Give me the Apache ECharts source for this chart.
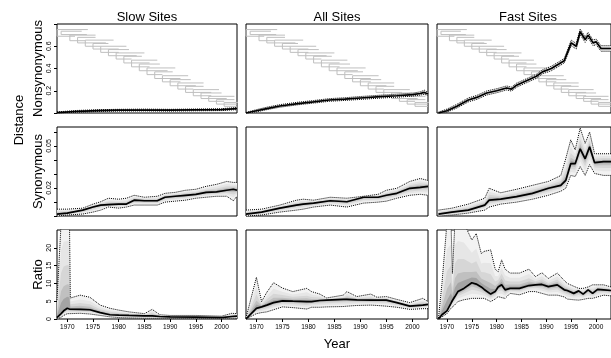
<!DOCTYPE html>
<html>
<head>
<meta charset="utf-8">
<script src="https://cdn.jsdelivr.net/npm/echarts@6/dist/echarts.min.js"></script>
<style>
  html, body { margin: 0; padding: 0; background: #fff; }
  #chart { width: 611px; height: 358px; }
</style>
</head>
<body>
<div id="chart"></div>
<script>
const panelTitles = ["Slow Sites", "All Sites", "Fast Sites"];
const rowLabels = ["Nonsynonymous", "Synonymous", "Ratio"];
const yearTicks = [1970, 1975, 1980, 1985, 1990, 1995, 2000];
const nonsynTicks = [0, 0.2, 0.4, 0.6, 0.8];
const nonsynLabels = [0.2, 0.4, 0.6];
const synTicks = [0, 0.01, 0.02, 0.03, 0.04, 0.05, 0.06];
const synLabels = [0.02, 0.05];
const ratioTicks = [0, 5, 10, 15, 20];

// sampled tree: [node year, upper tip distance, lower tip distance, upper branch length, lower branch length]
const treeNodes = [
  [1968.0, 0.750, 0.690, 6.0, 3.5], [1968.8, 0.735, 0.705, 4.0, 5.0],
  [1970.5, 0.700, 0.650, 5.0, 3.0], [1972.0, 0.680, 0.630, 3.5, 5.5],
  [1973.5, 0.655, 0.600, 5.5, 3.0], [1975.0, 0.625, 0.575, 3.0, 5.0],
  [1976.5, 0.600, 0.545, 5.0, 3.5], [1978.0, 0.570, 0.515, 4.0, 5.5],
  [1979.5, 0.540, 0.485, 5.5, 3.0], [1981.0, 0.510, 0.450, 3.5, 5.0],
  [1982.5, 0.475, 0.415, 5.0, 3.5], [1984.0, 0.440, 0.380, 4.0, 5.5],
  [1985.5, 0.405, 0.345, 5.5, 3.0], [1987.0, 0.370, 0.310, 3.5, 5.0],
  [1988.5, 0.335, 0.280, 5.0, 3.5], [1990.0, 0.300, 0.245, 4.0, 5.0],
  [1991.5, 0.270, 0.215, 5.0, 3.0], [1993.0, 0.240, 0.185, 3.5, 5.0],
  [1994.5, 0.210, 0.155, 5.0, 3.5], [1996.0, 0.180, 0.130, 4.0, 5.0],
  [1997.5, 0.150, 0.105, 5.0, 3.0], [1999.0, 0.120, 0.080, 3.5, 4.0],
  [2000.5, 0.095, 0.060, 3.0, 2.5]
];

// nonsynonymous distance
const slowNonsynYears = [1968, 1972, 1976, 1980, 1985, 1990, 1995, 2000, 2003];
const slowNonsynMid = [0.003, 0.015, 0.022, 0.025, 0.027, 0.025, 0.028, 0.030, 0.040];
const slowNonsynLo = [0, 0.007, 0.014, 0.017, 0.019, 0.017, 0.020, 0.022, 0.030];
const slowNonsynHi = [0.010, 0.023, 0.030, 0.033, 0.035, 0.033, 0.036, 0.039, 0.050];

const allNonsynYears = [1968, 1970, 1972, 1974.5, 1978, 1981, 1984, 1987, 1990, 1993.8, 1997, 2000, 2001.5, 2002.3, 2003];
const allNonsynMid = [0, 0.02, 0.04, 0.063, 0.085, 0.10, 0.117, 0.125, 0.135, 0.147, 0.155, 0.165, 0.175, 0.185, 0.171];
const allNonsynLo = [0, 0.01, 0.03, 0.052, 0.074, 0.089, 0.105, 0.113, 0.122, 0.134, 0.142, 0.152, 0.161, 0.168, 0.158];
const allNonsynHi = [0.005, 0.03, 0.052, 0.075, 0.097, 0.112, 0.129, 0.137, 0.148, 0.160, 0.168, 0.178, 0.19, 0.205, 0.185];

const fastNonsynYears = [1968.3, 1970, 1972, 1974.3, 1976, 1978, 1980, 1982, 1983, 1984, 1986, 1988, 1989.2, 1991, 1992.5, 1993.6, 1995, 1996, 1996.8, 1997.8, 1998.4, 1999.4, 2000, 2001, 2003];
const fastNonsynMid = [0, 0.02, 0.06, 0.117, 0.14, 0.18, 0.20, 0.225, 0.215, 0.25, 0.29, 0.33, 0.37, 0.40, 0.44, 0.47, 0.63, 0.60, 0.73, 0.66, 0.70, 0.63, 0.64, 0.58, 0.58];
const fastNonsynLo = [0, 0.008, 0.045, 0.10, 0.122, 0.162, 0.182, 0.207, 0.197, 0.232, 0.272, 0.312, 0.352, 0.38, 0.42, 0.45, 0.605, 0.575, 0.705, 0.635, 0.675, 0.605, 0.615, 0.555, 0.555];
const fastNonsynHi = [0.008, 0.035, 0.078, 0.135, 0.158, 0.198, 0.218, 0.243, 0.233, 0.268, 0.308, 0.348, 0.388, 0.42, 0.46, 0.49, 0.655, 0.625, 0.755, 0.685, 0.725, 0.655, 0.665, 0.605, 0.605];

// synonymous distance
const slowSynYears = [1968, 1970, 1973, 1975, 1976.5, 1978, 1980, 1981.5, 1983, 1985, 1987.5, 1989, 1991, 1993, 1995, 1997, 1999, 2001, 2002.3, 2003];
const slowSynMid = [0.0014, 0.0021, 0.0042, 0.0064, 0.0078, 0.0081, 0.0085, 0.0085, 0.0113, 0.0109, 0.0109, 0.0134, 0.0141, 0.0148, 0.0155, 0.0169, 0.0173, 0.0184, 0.0191, 0.0184];
const slowSynLo = [0, 0.0007, 0.0014, 0.0028, 0.0042, 0.0064, 0.0056, 0.0064, 0.0078, 0.0078, 0.0078, 0.0099, 0.0106, 0.0113, 0.0127, 0.0134, 0.0141, 0.0141, 0.0109, 0.0141];
const slowSynHi = [0.0049, 0.0049, 0.0056, 0.0085, 0.0102, 0.0127, 0.0120, 0.0127, 0.0148, 0.0134, 0.0141, 0.0162, 0.0169, 0.0184, 0.0191, 0.0212, 0.0226, 0.0247, 0.0240, 0.0240];

const allSynYears = [1968, 1971, 1974.5, 1977.7, 1979, 1981, 1984.2, 1987.4, 1990.6, 1993.4, 1995, 1997, 1999.5, 2001.5, 2003];
const allSynMid = [0.0014, 0.0028, 0.0056, 0.0078, 0.0085, 0.0092, 0.0109, 0.0102, 0.0134, 0.0134, 0.0148, 0.0162, 0.0198, 0.0205, 0.0212];
const allSynLo = [0, 0.0007, 0.0028, 0.0042, 0.0049, 0.0064, 0.0078, 0.0064, 0.0092, 0.0099, 0.0106, 0.0127, 0.0148, 0.0155, 0.0148];
const allSynHi = [0.0042, 0.0049, 0.0078, 0.0113, 0.0120, 0.0113, 0.0134, 0.0127, 0.0141, 0.0155, 0.0184, 0.0198, 0.0247, 0.0268, 0.0254];

const fastSynYears = [1968.3, 1971, 1974.3, 1977.6, 1978.5, 1980.8, 1984, 1987.2, 1990.4, 1992.9, 1993.9, 1994.9, 1995.8, 1996.8, 1997.8, 1998.7, 1999.7, 2001.5, 2003];
const fastSynMid = [0.0014, 0.0028, 0.0042, 0.0078, 0.0113, 0.0120, 0.0138, 0.0162, 0.0198, 0.0219, 0.0254, 0.0374, 0.0374, 0.0480, 0.0409, 0.0494, 0.0381, 0.0388, 0.0388];
const fastSynLo = [0, 0.0007, 0.0021, 0.0042, 0.0064, 0.0085, 0.0099, 0.0120, 0.0148, 0.0177, 0.0198, 0.0290, 0.0282, 0.0353, 0.0290, 0.0367, 0.0304, 0.0290, 0.0290];
const fastSynHi = [0.0042, 0.0056, 0.0085, 0.0127, 0.0198, 0.0166, 0.0191, 0.0219, 0.0247, 0.0289, 0.0410, 0.0544, 0.0473, 0.0628, 0.0519, 0.0600, 0.0445, 0.0445, 0.0445];

// ratio
const slowRatioYears = [1968, 1968.8, 1969.3, 1970, 1970.4, 1970.6, 1972.5, 1974.4, 1976.4, 1978.3, 1980, 1982, 1985, 1986.5, 1988, 1990, 1995, 2000, 2002, 2003];
const slowRatioMid = [0.4, 1.5, 2.3, 3.0, 2.8, 2.7, 2.7, 2.6, 1.8, 1.2, 1.1, 1.0, 0.9, 0.9, 0.7, 0.6, 0.5, 0.4, 0.7, 0.8];
const slowRatioLo = [0, 0.5, 1.0, 1.5, 1.5, 1.5, 1.6, 1.4, 1.0, 0.6, 0.4, 0.3, 0.2, 0.2, 0.2, 0.2, 0.15, 0.1, 0.2, 0.2];
const slowRatioHi = [5.3, 27, 30, 30, 30, 5.9, 6.7, 6.1, 3.9, 3.0, 2.5, 2.0, 1.5, 2.7, 1.2, 1.0, 1.0, 0.8, 1.6, 1.5];

const allRatioYears = [1968, 1970, 1971, 1972, 1973.3, 1975, 1977, 1979.7, 1980.6, 1982.2, 1983.5, 1986.7, 1987.4, 1989.3, 1992, 1993.2, 1995, 1997, 1999.5, 2002, 2003];
const allRatioMid = [0, 3.0, 3.4, 3.9, 4.6, 5.1, 5.0, 4.9, 4.9, 5.2, 5.3, 5.5, 5.5, 5.4, 5.3, 5.3, 5.3, 4.6, 3.6, 3.9, 4.1];
const allRatioLo = [0, 1.5, 1.8, 2.0, 2.6, 3.4, 3.2, 2.8, 3.3, 3.3, 3.4, 3.5, 3.6, 3.8, 3.9, 3.8, 3.6, 3.3, 2.7, 2.9, 2.9];
const allRatioHi = [0.3, 11.7, 4.9, 7.5, 10.2, 8.7, 7.7, 8.6, 7.7, 7.0, 5.9, 6.7, 7.7, 6.3, 7.0, 6.1, 6.3, 5.5, 4.6, 5.8, 4.9];

const fastRatioYears = [1968.3, 1969, 1970, 1970.8, 1971.1, 1971.6, 1972.2, 1973.4, 1975, 1975.9, 1976.9, 1977.5, 1978.8, 1979.7, 1980.3, 1981, 1981.7, 1982.7, 1984.6, 1986.5, 1987.8, 1989.1, 1990.4, 1992.2, 1993.6, 1994.2, 1995.5, 1996.5, 1997.4, 1998.4, 1999.3, 2000.3, 2001.5, 2003];
const fastRatioMid = [0, 1.2, 2.3, 4.4, 5.2, 6.3, 7.7, 8.6, 10.2, 9.8, 9.0, 8.3, 7.0, 7.7, 9.0, 9.6, 8.2, 8.6, 8.6, 9.4, 9.6, 9.7, 9.1, 9.6, 8.2, 8.0, 7.2, 7.9, 7.0, 8.2, 7.2, 8.3, 8.2, 8.0];
const fastRatioLo = [0, 0.6, 1.5, 3.0, 3.5, 4.0, 4.9, 5.4, 5.8, 5.8, 5.8, 5.8, 4.9, 5.6, 6.3, 6.0, 5.8, 7.2, 6.8, 7.7, 7.7, 7.2, 6.7, 6.7, 6.2, 5.6, 5.4, 5.3, 5.5, 5.8, 5.8, 6.2, 6.7, 6.5];
const fastRatioHi = [0.3, 10, 27, 28, 12.8, 27, 28, 27, 22.2, 24, 18.4, 19, 19.4, 14, 13.3, 16.6, 14, 12.9, 12.9, 14.0, 11.9, 13.0, 11.4, 12.9, 10.8, 10.0, 9.2, 8.6, 8.6, 9.0, 9.6, 9.6, 9.6, 9.0];

const panels = [
  [slowNonsynYears, slowNonsynMid, slowNonsynLo, slowNonsynHi],
  [allNonsynYears, allNonsynMid, allNonsynLo, allNonsynHi],
  [fastNonsynYears, fastNonsynMid, fastNonsynLo, fastNonsynHi],
  [slowSynYears, slowSynMid, slowSynLo, slowSynHi],
  [allSynYears, allSynMid, allSynLo, allSynHi],
  [fastSynYears, fastSynMid, fastSynLo, fastSynHi],
  [slowRatioYears, slowRatioMid, slowRatioLo, slowRatioHi],
  [allRatioYears, allRatioMid, allRatioLo, allRatioHi],
  [fastRatioYears, fastRatioMid, fastRatioLo, fastRatioHi]
];

const colLeft = [57, 246, 437];
const colWidth = [180, 182, 182];
const rowTop = [24, 127, 230];
const rowHeight = 89;
const rowMax = [0.8, 0.0636, 25];
const rowTicks = [nonsynTicks, synTicks, ratioTicks];
const rowTickLabels = [nonsynLabels, synLabels, ratioTicks];
// shading steps from the outer interval towards the median
const bandLevels = [1, 0.7, 0.45, 0.25, 0.12];
const bandColors = ["#f2f2f2", "#e6e6e6", "#d6d6d6", "#c0c0c0", "#a4a4a4"];
const font = "Liberation Sans, Arial, sans-serif";

const chart = echarts.init(document.getElementById("chart"));

const grid = [], xAxis = [], yAxis = [], series = [];

for (let r = 0; r < 3; r++) {
  for (let c = 0; c < 3; c++) {
    const idx = r * 3 + c;
    grid.push({
      left: colLeft[c], top: rowTop[r], width: colWidth[c], height: rowHeight,
      show: true, borderColor: "#000", borderWidth: 1, backgroundColor: "transparent"
    });
    xAxis.push({
      gridIndex: idx, type: "value", min: 1968, max: 2003,
      axisLine: { show: false }, splitLine: { show: false },
      axisTick: { show: r === 2, length: 3, customValues: yearTicks, lineStyle: { color: "#000" } },
      axisLabel: {
        show: r === 2, customValues: yearTicks, fontSize: 6.5, color: "#000",
        fontFamily: font, margin: 5, formatter: v => String(v)
      }
    });
    yAxis.push({
      gridIndex: idx, type: "value", min: 0, max: rowMax[r],
      axisLine: { show: false }, splitLine: { show: false },
      axisTick: { show: c === 0, length: 3, customValues: rowTicks[r], lineStyle: { color: "#000" } },
      axisLabel: {
        show: c === 0, customValues: rowTickLabels[r], rotate: 90, fontSize: 7,
        color: "#000", fontFamily: font, margin: 4
      }
    });

    const [yrs, mid, lo, hi] = panels[idx];

    if (r === 0) {
      series.push({
        type: "lines", coordinateSystem: "cartesian2d", xAxisIndex: idx, yAxisIndex: idx,
        polyline: true, silent: true, clip: true,
        lineStyle: { color: "#bfbfbf", width: 1, opacity: 1 },
        data: treeNodes.map(n => ({
          coords: [[n[0] + n[3], n[1]], [n[0], n[1]], [n[0], n[2]], [n[0] + n[4], n[2]]]
        }))
      });
    }

    series.push({
      type: "custom", xAxisIndex: idx, yAxisIndex: idx, clip: true, silent: true,
      data: [0],
      renderItem: function (params, api) {
        const children = bandLevels.map((f, k) => {
          const top = yrs.map((x, i) => api.coord([x, mid[i] + f * (hi[i] - mid[i])]));
          const bot = yrs.map((x, i) => api.coord([x, mid[i] - f * (mid[i] - lo[i])])).reverse();
          return { type: "polygon", shape: { points: top.concat(bot) }, style: { fill: bandColors[k] } };
        });
        return { type: "group", children: children };
      }
    });

    const lineOf = (vals, style) => ({
      type: "line", xAxisIndex: idx, yAxisIndex: idx, silent: true,
      symbol: "none", animation: false,
      data: yrs.map((x, i) => [x, vals[i]]),
      lineStyle: style
    });
    series.push(lineOf(lo, { color: "#000", width: 1, type: "dotted" }));
    series.push(lineOf(hi, { color: "#000", width: 1, type: "dotted" }));
    series.push(lineOf(mid, { color: "#000", width: 1.7 }));
  }
}

const graphic = [];
panelTitles.forEach((t, c) => {
  graphic.push({
    type: "text", x: colLeft[c] + colWidth[c] / 2, y: 17,
    style: { text: t, font: "13px " + font, fill: "#000", textAlign: "center", textVerticalAlign: "middle" }
  });
});
rowLabels.forEach((t, r) => {
  graphic.push({
    type: "text", x: 38, y: rowTop[r] + rowHeight / 2, rotation: Math.PI / 2,
    style: { text: t, font: "13px " + font, fill: "#000", textAlign: "center", textVerticalAlign: "middle" }
  });
});
graphic.push({
  type: "text", x: 19, y: 120, rotation: Math.PI / 2,
  style: { text: "Distance", font: "13px " + font, fill: "#000", textAlign: "center", textVerticalAlign: "middle" }
});
graphic.push({
  type: "text", x: 337, y: 344,
  style: { text: "Year", font: "13px " + font, fill: "#000", textAlign: "center", textVerticalAlign: "middle" }
});

chart.setOption({
  animation: false,
  backgroundColor: "#fff",
  grid: grid,
  xAxis: xAxis,
  yAxis: yAxis,
  series: series,
  graphic: graphic
});
</script>
</body>
</html>
